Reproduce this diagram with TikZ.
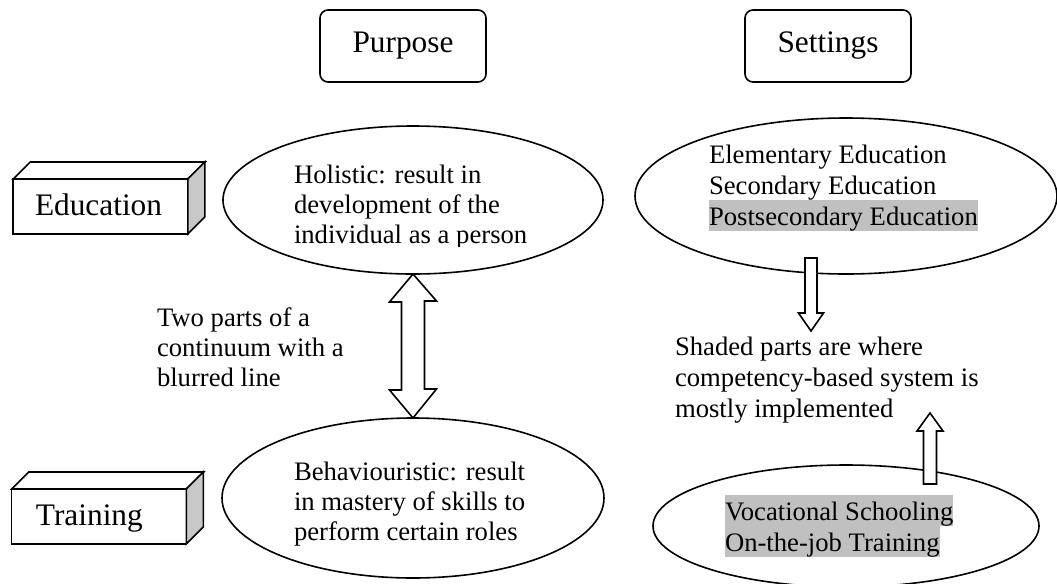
\documentclass[tikz,border=0pt]{standalone}
\usepackage{fontspec}
\setmainfont{Liberation Serif}
\usetikzlibrary{shapes.geometric,calc}
\definecolor{hl}{RGB}{192,192,192}
\definecolor{sideface}{RGB}{200,200,200}
% grey highlight behind a line of text
\newcommand\hlstrut{\rule[-4.5pt]{0pt}{23.25pt}}
\newcommand\hl[1]{{\setlength\fboxsep{0pt}\colorbox{hl}{\hlstrut #1}}}
\begin{document}
\begin{tikzpicture}[x=0.75pt,y=-0.75pt,
  line width=1.2pt,
  every node/.style={inner sep=0pt, outer sep=0pt},
  % multi-line texts are placed by the baseline of their last line
  bodytext/.style={font=\fontsize{20}{23.25}\selectfont, align=left, anchor=base west},
  lefttext/.style={font=\fontsize{20}{22.2}\selectfont, align=left, anchor=base west},
  boxfont/.style={font=\fontsize{23.5}{28}\selectfont},
  headbox/.style={draw, rounded corners=6pt, minimum width=124.5pt, minimum height=54pt, boxfont},
  oval/.style={draw, ellipse},
  frontface/.style={draw, fill=white, minimum width=131pt, minimum height=41.25pt},
  blockarrow/.style={draw, fill=white, line join=miter},
]
\useasboundingbox (0,0) rectangle (1057,583);

% column headings
\node[headbox] (purpose) at (403,46) {Purpose};
\node[headbox] (settings) at (828,46) {Settings};

% 3-D label blocks
\node[frontface] (edu) at (100.5,206.5) {};
\draw[fill=white] (edu.north west) -- ++(17,-17) -- ++(175,0) -- (edu.north east) -- cycle;
\draw[fill=sideface] (edu.north east) -- ++(17,-17) -- ++(0,55) -- (edu.south east) -- cycle;
\node[boxfont, anchor=base west] (edutxt) at (35,215) {Education};

\node[frontface] (trn) at (99,516.5) {};
\draw[fill=white] (trn.north west) -- ++(17,-17) -- ++(175,0) -- (trn.north east) -- cycle;
\draw[fill=sideface] (trn.north east) -- ++(17,-17) -- ++(0,55) -- (trn.south east) -- cycle;
\node[boxfont, anchor=base west] (trntxt) at (36,525) {Training};

% ellipses
\node[oval, minimum width=285pt, minimum height=111pt] (hol) at (413,200) {};
\node[oval, minimum width=286.5pt, minimum height=120pt] (beh) at (413,498) {};
\node[oval, minimum width=316.5pt, minimum height=117pt] (sch) at (846,196) {};
\node[oval, minimum width=289.5pt, minimum height=91.5pt] (voc) at (846,526) {};

% block arrows
\draw[blockarrow] (hol.south) -- ++(23.5,27) -- ++(-12,0) -- ++(0,88) -- ++(12,0)
  -- (beh.north) -- ++(-23.5,-28) -- ++(12,0) -- ++(0,-88) -- ++(-12,0) -- cycle;
\coordinate (dtip) at (811,331);
\draw[blockarrow] (dtip) -- ++(12.5,-18) -- ++(-6.5,0) -- ++(0,-55) -- ++(-12,0)
  -- ++(0,55) -- ++(-6.5,0) -- cycle;
\coordinate (utip) at (930,413);
\draw[blockarrow] (utip) -- ++(13,18) -- ++(-6.5,0) -- ++(0,53) -- ++(-13,0)
  -- ++(0,-53) -- ++(-6.5,0) -- cycle;

% texts
\begin{scope}
  \clip (0,0) rectangle (1057,246);
  \node[lefttext] (holtxt) at (294,243) {Holistic: result in\\development of the\\individual as a person};
\end{scope}
\node[lefttext] (behtxt) at (294,540) {Behaviouristic: result\\in mastery of skills to\\perform certain roles};
\node[lefttext] (conttxt) at (157,386) {Two parts of a\\continuum with a\\blurred line};
\node[bodytext] (schtxt) at (709,225) {Elementary Education\\Secondary Education\\\hl{Postsecondary Education}};
\node[bodytext] (shdtxt) at (675,417) {Shaded parts are where\\competency-based system is\\mostly implemented};
\node[bodytext] (voctxt) at (725,551) {\hl{Vocational Schooling}\\\hl{On-the-job Training}};
\end{tikzpicture}
\end{document}
